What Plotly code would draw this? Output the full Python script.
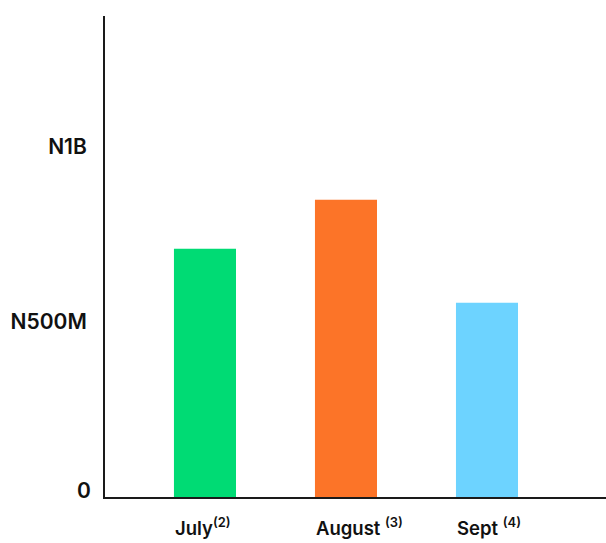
import plotly.graph_objects as go

# Monthly totals (naira)
months = ["July", "August", "Sept"]
notes = ["<sup>(2)</sup>", " <sup>(3)</sup>", " <sup>(4)</sup>"]
values = [709e6, 849e6, 555e6]
colors = ["#00DB74", "#FC7428", "#6DD3FF"]

tick_vals = [500e6, 1e9]
tick_text = ["N500M", "N1B"]

FONT = "Inter"
INK = "#111111"

fig = go.Figure(
    go.Bar(
        x=months,
        y=values,
        marker=dict(color=colors, line=dict(width=0)),
        width=0.44,
        hoverinfo="skip",
    )
)

# Month labels with footnote markers, aligned to the left edge of each bar
for m, n in zip(months, notes):
    fig.add_annotation(
        x=m, y=0, xref="x", yref="y",
        text=m + n, showarrow=False,
        xanchor="left", yanchor="top",
        xshift=-32, yshift=-15,
        font=dict(family=FONT, size=18.5, color=INK, weight=600),
    )

# Zero label sits slightly above the baseline
fig.add_annotation(
    x=0, y=0, xref="paper", yref="y",
    text="0", showarrow=False,
    xanchor="right", yanchor="middle",
    xshift=-12, yshift=7,
    font=dict(family=FONT, size=21, color=INK, weight=600),
)

fig.update_layout(
    width=606, height=543,
    margin=dict(l=105, r=0, t=16, b=46),
    paper_bgcolor="white",
    plot_bgcolor="white",
    showlegend=False,
    font=dict(family=FONT, color=INK),
    xaxis=dict(
        type="category",
        range=[-0.709, 2.844],
        showticklabels=False,
        showgrid=False,
        zeroline=False,
        showline=True, linecolor="#1a1a1a", linewidth=2,
        ticks="",
    ),
    yaxis=dict(
        range=[0, 1.374e9],
        tickvals=tick_vals,
        ticktext=tick_text,
        tickfont=dict(family=FONT, size=21, color=INK, weight=600),
        ticklabelstandoff=12,
        showgrid=False,
        zeroline=False,
        showline=True, linecolor="#1a1a1a", linewidth=2,
        ticks="",
    ),
)

fig.write_html("out.html")
